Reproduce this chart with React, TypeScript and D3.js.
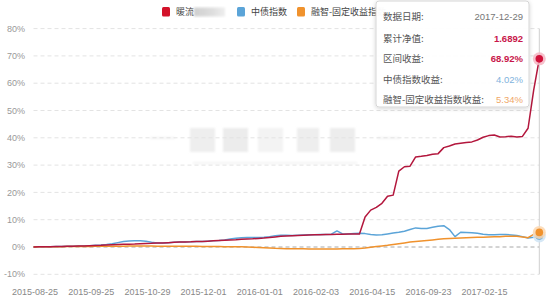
import React from "react";
import * as d3 from "d3";

const W = 554;
const H = 304;

const tickLabels = [
  "2015-08-25", "2015-09-25", "2015-10-29", "2015-12-01", "2016-01-01",
  "2016-02-03", "2016-04-15", "2016-09-23", "2017-02-15",
];
const lastDate = "2017-12-29";
const labelEvery = 10;

const yTicks = [-10, 0, 10, 20, 30, 40, 50, 60, 70, 80];

const seriesNames = ["暖流", "中债指数", "融智-固定收益指数"];
const seriesColors = ["#b3173d", "#5ba4d8", "#f0922d"];

const redValues = [
  0, 0.05, 0.1, 0.1, 0.15, 0.2, 0.25, 0.3, 0.35, 0.4,
  0.5, 0.55, 0.6, 0.7, 0.8, 0.9, 1.0, 1.05, 1.1, 1.2,
  1.3, 1.35, 1.45, 1.5, 1.6, 1.7, 1.8, 1.85, 1.9, 2.0,
  2.05, 2.15, 2.25, 2.35, 2.45, 2.55, 2.65, 2.8, 2.9, 3.0,
  3.15, 3.3, 3.5, 3.7, 3.9, 4.0, 4.1, 4.2, 4.3, 4.4,
  4.45, 4.5, 4.55, 4.6, 4.7, 4.7, 4.75, 4.8, 4.8, 11.0,
  13.5, 14.5, 16.0, 18.6, 19.0, 27.8, 29.4, 29.6, 33.0, 33.2,
  33.5, 34.0, 34.2, 36.4, 37.0, 37.7, 38.0, 38.3, 38.5, 39.2,
  40.2, 40.8, 41.0, 40.3, 40.4, 40.6, 40.3, 40.5, 43.5, 57.5, 68.92,
];

const blueValues = [
  0, 0.05, 0.1, 0.1, 0.15, 0.2, 0.25, 0.3, 0.35, 0.4,
  0.5, 0.6, 0.7, 0.9, 1.2, 1.6, 2.0, 2.2, 2.3, 2.3,
  2.1, 1.7, 1.5, 1.5, 1.6, 1.7, 1.8, 1.85, 1.9, 2.0,
  2.05, 2.15, 2.25, 2.4, 2.6, 2.9, 3.2, 3.4, 3.5, 3.5,
  3.5, 3.6, 3.8, 4.1, 4.3, 4.3, 4.2, 4.3, 4.4, 4.5,
  4.5, 4.55, 4.6, 4.7, 5.9, 4.8, 4.8, 4.9, 5.0, 4.9,
  4.6, 4.4, 4.5, 4.8, 5.1, 5.4, 5.8, 6.4, 7.0, 6.8,
  6.8, 7.2, 7.6, 7.8, 6.4, 3.8, 5.4, 5.3, 5.2, 5.0,
  4.7, 4.5, 4.5, 4.6, 4.6, 4.4, 4.2, 3.8, 3.3, 3.6, 4.02,
];

const orangeValues = [
  0, 0.05, 0.05, 0.1, 0.1, 0.1, 0.15, 0.15, 0.2, 0.2,
  0.2, 0.25, 0.25, 0.3, 0.3, 0.3, 0.3, 0.35, 0.35, 0.35,
  0.35, 0.35, 0.3, 0.3, 0.3, 0.3, 0.3, 0.25, 0.25, 0.25,
  0.2, 0.2, 0.2, 0.15, 0.1, 0.1, 0.1, 0.05, 0.0, -0.1,
  -0.2, -0.3, -0.4, -0.5, -0.55, -0.6, -0.6, -0.65, -0.65, -0.7,
  -0.7, -0.7, -0.7, -0.7, -0.7, -0.65, -0.6, -0.6, -0.55, -0.4,
  -0.1, 0.2, 0.4, 0.6, 0.9, 1.2, 1.5, 1.8, 2.0, 2.2,
  2.4, 2.6, 2.8, 3.0, 3.1, 3.2, 3.3, 3.4, 3.5, 3.6,
  3.6, 3.7, 3.8, 3.8, 3.9, 3.9, 3.9, 3.7, 3.4, 4.6, 5.34,
];

const tooltipLabels = ["数据日期:", "累计净值:", "区间收益:", "中债指数收益:", "融智-固定收益指数收益:"];
const tooltipValues = [lastDate, "1.6892", "68.92%", "4.02%", "5.34%"];
const tooltipColors = ["#777", "#c8174a", "#c8174a", "#7fb3dd", "#f0a868"];

const FONT = "'Noto Sans CJK SC', 'Liberation Sans', sans-serif";

export default function App() {
  const n = redValues.length;
  const left = 33.5;
  const right = 539.3;
  const x = d3.scaleLinear().domain([0, n - 1]).range([left, right]);
  const y = d3.scaleLinear().domain([-10, 80]).range([274.3, 28.6]);

  const line = d3
    .line<number>()
    .x((_, i) => x(i))
    .y((d) => y(d));

  const seriesList = [blueValues, orangeValues, redValues];
  const colorList = [seriesColors[1], seriesColors[2], seriesColors[0]];

  const tickIdx = tickLabels.map((_, i) => i * labelEvery);

  const legendX = [162, 237, 297];

  return (
    <svg
      width={W}
      height={H}
      style={{ position: "absolute", left: 0, top: 0, background: "#fff" }}
      fontFamily={FONT}
    >
      <defs>
        <filter id="shadow" x="-20%" y="-20%" width="140%" height="140%">
          <feDropShadow dx="0" dy="1" stdDeviation="2" floodColor="#000" floodOpacity="0.18" />
        </filter>
        <filter id="blur2">
          <feGaussianBlur stdDeviation="1.2" />
        </filter>
        <linearGradient id="legBlur" x1="0" x2="1">
          <stop offset="0" stopColor="#cfcfcf" />
          <stop offset="0.6" stopColor="#dedede" />
          <stop offset="1" stopColor="#eeeeee" />
        </linearGradient>
      </defs>
      <rect width={W} height={H} fill="#fff" />

      {/* watermark */}
      <g filter="url(#blur2)">
        {[
          [190, 25, "#eeeeee"],
          [223, 25, "#ececec"],
          [258, 25, "#f3f3f3"],
          [297, 22, "#eeeeee"],
          [330, 25, "#ededed"],
        ].map(([bx, bw, c], i) => (
          <rect key={i} x={bx as number} y={128} width={bw as number} height={24} fill={c as string} />
        ))}
        <line x1={150} x2={175} y1={138} y2={138} stroke="#efefef" strokeWidth={1.5} />
        <line x1={377} x2={400} y1={138} y2={138} stroke="#efefef" strokeWidth={1.5} />
        <line x1={193} x2={357} y1={163} y2={163} stroke="#f3f3f3" strokeWidth={2} />
      </g>

      {/* grid */}
      {yTicks.map((t) => (
        <g key={t}>
          <line
            x1={left}
            x2={right}
            y1={y(t)}
            y2={y(t)}
            stroke={t === 0 ? "#a8a8a8" : "#e3e3e3"}
            strokeWidth={1}
            strokeDasharray="4,3"
          />
          <text
            x={25}
            y={y(t)}
            dy="0.35em"
            textAnchor="end"
            fontSize={9}
            fill="#999"
            fontFamily="'Liberation Sans', sans-serif"
          >
            {t}%
          </text>
        </g>
      ))}

      {/* x labels */}
      {tickIdx.map((ti, k) => (
        <text
          key={ti}
          x={x(ti) + 1.5}
          y={292}
          dy="0.35em"
          textAnchor="middle"
          fontSize={9}
          fill="#888"
          fontFamily="'Liberation Sans', sans-serif"
        >
          {tickLabels[k]}
        </text>
      ))}

      {/* crosshair */}
      <line x1={x(n - 1)} x2={x(n - 1)} y1={y(80)} y2={y(-10)} stroke="#cfcfcf" strokeWidth={1} />

      {/* lines */}
      {seriesList.map((s, i) => (
        <path
          key={i}
          d={line(s) || ""}
          fill="none"
          stroke={colorList[i]}
          strokeWidth={1.5}
          strokeLinejoin="round"
        />
      ))}

      {/* end markers */}
      {[
        [blueValues, seriesColors[1], "#cfe4f5"],
        [redValues, "#d0123a", "#f4b6c3"],
        [orangeValues, seriesColors[2], "#fbd7b0"],
      ].map(([s, c, halo], i) => {
        const arr = s as number[];
        const cx = x(arr.length - 1);
        const cy = y(arr[arr.length - 1]);
        return (
          <g key={i}>
            <circle cx={cx} cy={cy} r={6.5} fill={halo as string} opacity={0.85} />
            <circle cx={cx} cy={cy} r={3.8} fill={c as string} />
          </g>
        );
      })}

      {/* legend */}
      {seriesNames.map((name, i) => (
        <g key={name}>
          <rect x={legendX[i]} y={7} width={8} height={9.5} rx={1.5} fill={i === 0 ? "#d3122a" : seriesColors[i]} />
          <text x={legendX[i] + 14} y={12} dy="0.35em" fontSize={9} fill="#444">
            {name}
          </text>
        </g>
      ))}
      <rect x={194} y={7.5} width={31} height={9} fill="url(#legBlur)" filter="url(#blur2)" />

      {/* tooltip */}
      <g>
        <rect
          x={376}
          y={1}
          width={153}
          height={106}
          rx={3}
          fill="#fff"
          fillOpacity={0.97}
          stroke="#d6d6d6"
          filter="url(#shadow)"
        />
        {tooltipLabels.map((lab, i) => {
          const cy = [16.7, 38.3, 59, 80, 100][i];
          return (
            <g key={lab}>
              <text x={383} y={cy} dy="0.35em" fontSize={9.5} fill="#555">
                {lab}
              </text>
              <text
                x={523}
                y={cy}
                dy="0.35em"
                textAnchor="end"
                fontSize={9.5}
                fill={tooltipColors[i]}
                fontWeight={i === 1 || i === 2 ? "bold" : "normal"}
                fontFamily="'Liberation Sans', sans-serif"
              >
                {tooltipValues[i]}
              </text>
            </g>
          );
        })}
      </g>
    </svg>
  );
}
